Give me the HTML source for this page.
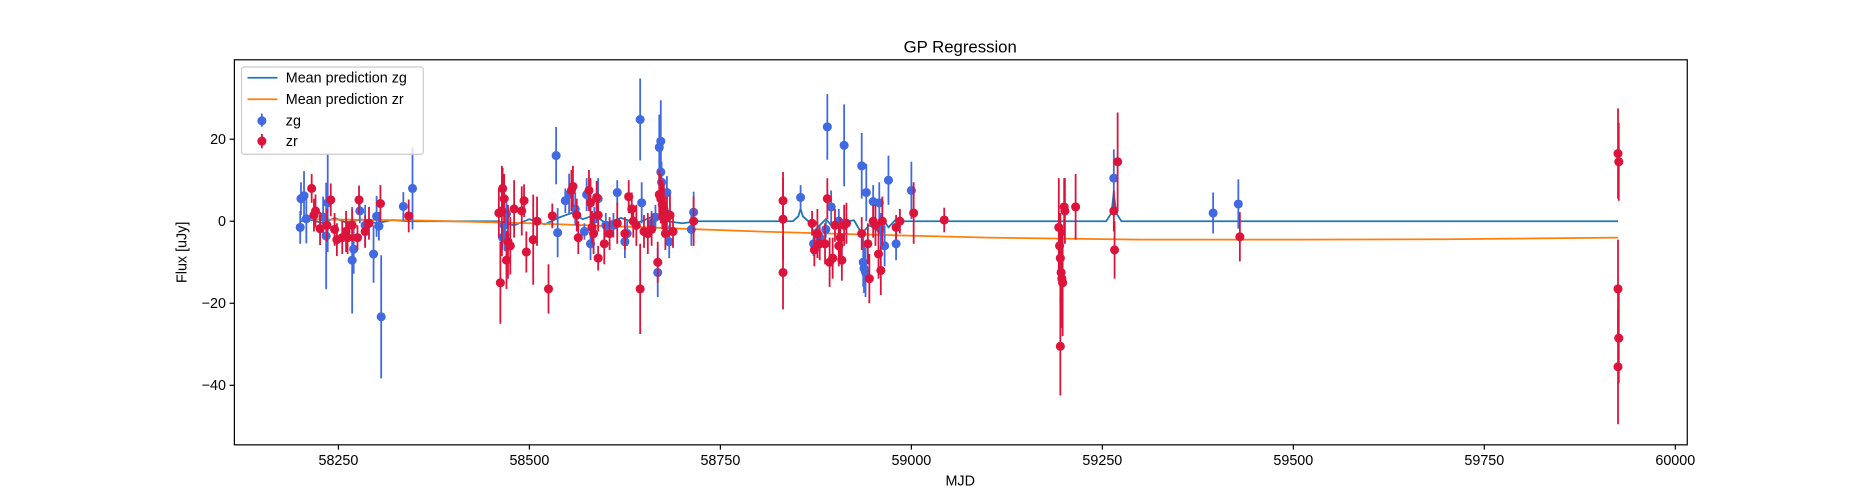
<!DOCTYPE html>
<html><head><meta charset="utf-8"><style>
body{margin:0;background:#fff}
svg{display:block;font-family:"Liberation Sans","DejaVu Sans",sans-serif}
</style></head><body>
<svg id="chart" width="1875" height="500" viewBox="0 0 1568 418.13" xmlns="http://www.w3.org/2000/svg">
<rect width="1568" height="419" fill="#fff"/>
<text x="803" y="44" font-size="14" text-anchor="middle">GP Regression</text>
<text x="803" y="406" font-size="12" text-anchor="middle">MJD</text>
<text transform="translate(156,211) rotate(-90)" font-size="12" text-anchor="middle">Flux [uJy]</text>
<g id="plot"></g>
<rect x="196" y="50" width="1215" height="322" fill="none" stroke="#000" stroke-width="1"/>
<g id="axes"></g>
<g>
<rect x="202" y="56" width="152" height="73" fill="#fff" fill-opacity="0.8" stroke="#ccc" rx="2"/>
<line x1="207" y1="65" x2="232" y2="65" stroke="#1f77b4" stroke-width="1.5"/>
<text x="239" y="69" font-size="12">Mean prediction zg</text>
<line x1="207" y1="83" x2="232" y2="83" stroke="#ff7f0e" stroke-width="1.5"/>
<text x="239" y="87" font-size="12">Mean prediction zr</text>
<line x1="219" y1="95" x2="219" y2="106" stroke="#4169e1" stroke-width="1.5"/><circle cx="219" cy="101" r="3.8" fill="#4169e1"/>
<text x="239" y="105" font-size="12">zg</text>
<line x1="219" y1="112" x2="219" y2="124" stroke="#dc143c" stroke-width="1.5"/><circle cx="219" cy="118" r="3.8" fill="#dc143c"/>
<text x="239" y="122" font-size="12">zr</text>
</g>
</svg>
<script>
const xTicks=[58250,58500,58750,59000,59250,59500,59750,60000];
const yTicks=[20,0,-20,-40];
const zgMjd=[58200,58201,58205,58208,58230,58234,58236,58268,58270,58278,58285,58296,58300,58306,58303,58335,58347,58470,58468,58465,58467,58535,58537,58547,58552,58560,58572,58575,58580,58585,58590,58600,58610,58615,58625,58628,58645,58647,58660,58665,58668,58670,58672,58672,58673,58675,58678,58680,58683,58712,58715,58855,58872,58880,58888,58890,58895,58905,58912,58935,58937,58938,58940,58941,58950,58958,58960,58965,58970,58980,59000,59265,59395,59428];
const zgFlux=[-1.5,5.5,6.2,0.6,1.0,-3.6,4.5,-9.5,-6.8,2.5,-1,-8,1.2,-23.3,-1.2,3.6,8,1.8,-3.3,-4,-1,16,-2.8,5,6.6,3,-2.5,6.5,-5.5,0.5,5.5,-1,-1,7,-5,-3,24.8,4.5,-0.5,1,-12.5,18,19.5,12,9.5,5.5,2,7,-5,-2,2.2,5.8,-5.5,-4,-2,23,3.5,0,18.5,13.5,-10,-11.5,-12.5,7,4.8,4.5,-2,-6,10,-5.5,7.5,10.5,2,4.2];
const zgErr=[4,4,6,6,5,13,12,13,6,3,5,7,5,15,3.5,3.5,10,3,4,3,4,7,6,3,5,4,2,4,4,3,5,3,3,3,4,3,10,5,3,3,6,8,10,8,5,4,4,4,4,4,5,3,3,3,2,8,4,3,10,8,6,6,6,7,4,5,4,5,6,4,7,7,5,6];
const zrMjd=[58215,58218,58220,58226,58235,58240,58245,58248,58255,58260,58262,58268,58275,58277,58285,58290,58305,58342,58460,58462,58464,58465,58467,58470,58472,58475,58480,58490,58493,58496,58505,58510,58530,58525,58555,58557,58562,58564,58578,58580,58582,58584,58588,58590,58590,58598,58605,58615,58625,58630,58634,58636,58640,58645,58650,58655,58660,58668,58670,58672,58674,58676,58678,58680,58684,58688,58715,58832,58832,58832,58870,58873,58877,58880,58887,58890,58893,58897,58900,58905,58907,58909,58912,58915,58935,58943,58945,58950,58953,58957,58960,58962,58980,58985,59003,59043,59193,59194,59195,59196,59197,59198,59195,59200,59201,59215,59265,59266,59270,59430,59925,59926,59925,59926,59925];
const zrFlux=[8,1.5,2.5,-1.8,-1,5.2,-2,-4.5,-4,-2.5,-4,-1,-4,5.2,-2.5,-0.5,4.3,1.3,2,-15,2.5,8,5.5,-9.5,-5,-6,3,2.5,5,-7.5,-4.5,0,1.3,-16.5,7.5,8.5,1.5,-4,7.5,4.5,-1.5,-3,5.8,1.5,-9,-5.5,-3,-0.5,-3,6,3,0,-1,-16.5,-2.5,-3,-2,-10,6.5,5.5,4,3,-3,1,1.5,-2.5,0,5,0.5,-12.5,-0.5,-7,-3,-5.5,-5.5,5.5,-10,-9,-1,-6,-4,-9.5,-1,-0.5,-3,-5.5,-14,0,-1,-8,-12,0,-1.5,0,2,0.3,-1.5,-6,-9,-12.5,-14,-15,-30.5,3.5,2.5,3.5,2.5,-7,14.5,-3.8,16.5,14.5,-16.5,-28.5,-35.5];
const zrErr=[3.5,4,4,4,4,4,4,4,4,5,4,4,3,3.5,4,4,4.5,4,6,10,11,5,6,7,9,7,7,6,4,5,11,6,3,6,5,5,4,4,5,6,4,5,4,4,3,5,4,5,4,4,4,4,5,11,4,5,4,5,6,6,6,6,4,5,5,4,6,7,10,9,3,4,6,4,5,5,6,5,4,5,5,5,5,5,4,5,6,4,5,6,6,6,3,3,7.5,3,12,7,11,11,12,13,12,7,8,8,5,7,12,6,11,9.5,12,11,14];
const zgCurveMjd=[58200,58215,58230,58245,58260,58280,58300,58320,58340,58460,58480,58500,58520,58540,58555,58570,58585,58600,58620,58640,58660,58680,58700,58720,58845,58852,58855,58858,58865,58872,58880,58888,58895,58905,58915,58925,58935,58945,58955,58962,58970,58980,58990,59000,59255,59262,59265,59268,59275,59925];
const zgCurveVal=[0,0.3,-0.5,0.8,-0.3,0.4,-0.5,0.3,0,0,-1,0.5,-0.8,1,2,0.5,1.5,-0.5,0.8,-0.5,1,0,-0.5,0,0,1.2,3,1.2,0,-2.5,-1,0.5,-1,0.5,0,0.2,-3,-1,-2,0.8,-1.5,0.5,0,0,0,2,7,2,0,0];
const zrCurveMjd=[58200,58350,58500,58650,58800,58950,59100,59300,59500,59700,59925];
const zrCurveVal=[0.5,0.2,-0.5,-1.5,-2.5,-3.3,-4,-4.5,-4.5,-4.4,-4];
const NS='http://www.w3.org/2000/svg';
const X=v=>283+(v-58250)*0.63886;
const Y=v=>185-v*3.43;
const plot=document.getElementById('plot'), axes=document.getElementById('axes');
function mk(t,a,p){const e=document.createElementNS(NS,t);for(const k in a)e.setAttribute(k,a[k]);p.appendChild(e);return e;}
xTicks.forEach(t=>{mk('line',{x1:X(t),x2:X(t),y1:372,y2:376,stroke:'#000'},axes);
const tx=mk('text',{x:X(t),y:389,'font-size':12,'text-anchor':'middle'},axes);tx.textContent=t;

});
yTicks.forEach(t=>{mk('line',{x1:192,x2:196,y1:Y(t),y2:Y(t),stroke:'#000'},axes);
const tx=mk('text',{x:189,y:Y(t)+4,'font-size':12,'text-anchor':'end'},axes);tx.textContent=(t<0?'\u2212'+(-t):t);

});
function curve(xs,ys,col,name){const d=xs.map((m,i)=>(i?'L':'M')+X(m).toFixed(1)+','+Y(ys[i]).toFixed(1)).join('');
const p=mk('path',{d:d,fill:'none',stroke:col,'stroke-width':1.5},plot);

}
function pts(xs,ys,es,col,name){xs.forEach((m,i)=>{const g=mk('g',{},plot);


mk('line',{x1:X(m),x2:X(m),y1:Y(ys[i]+es[i]),y2:Y(ys[i]-es[i]),stroke:col,'stroke-width':1.5},g);
mk('circle',{cx:X(m),cy:Y(ys[i]),r:3.8,fill:col},g);});}
curve(zgCurveMjd,zgCurveVal,'#1f77b4','zg-mean-line');
curve(zrCurveMjd,zrCurveVal,'#ff7f0e','zr-mean-line');
pts(zgMjd,zgFlux,zgErr,'#4169e1','zg-point');
pts(zrMjd,zrFlux,zrErr,'#dc143c','zr-point');
</script>
</body></html>
